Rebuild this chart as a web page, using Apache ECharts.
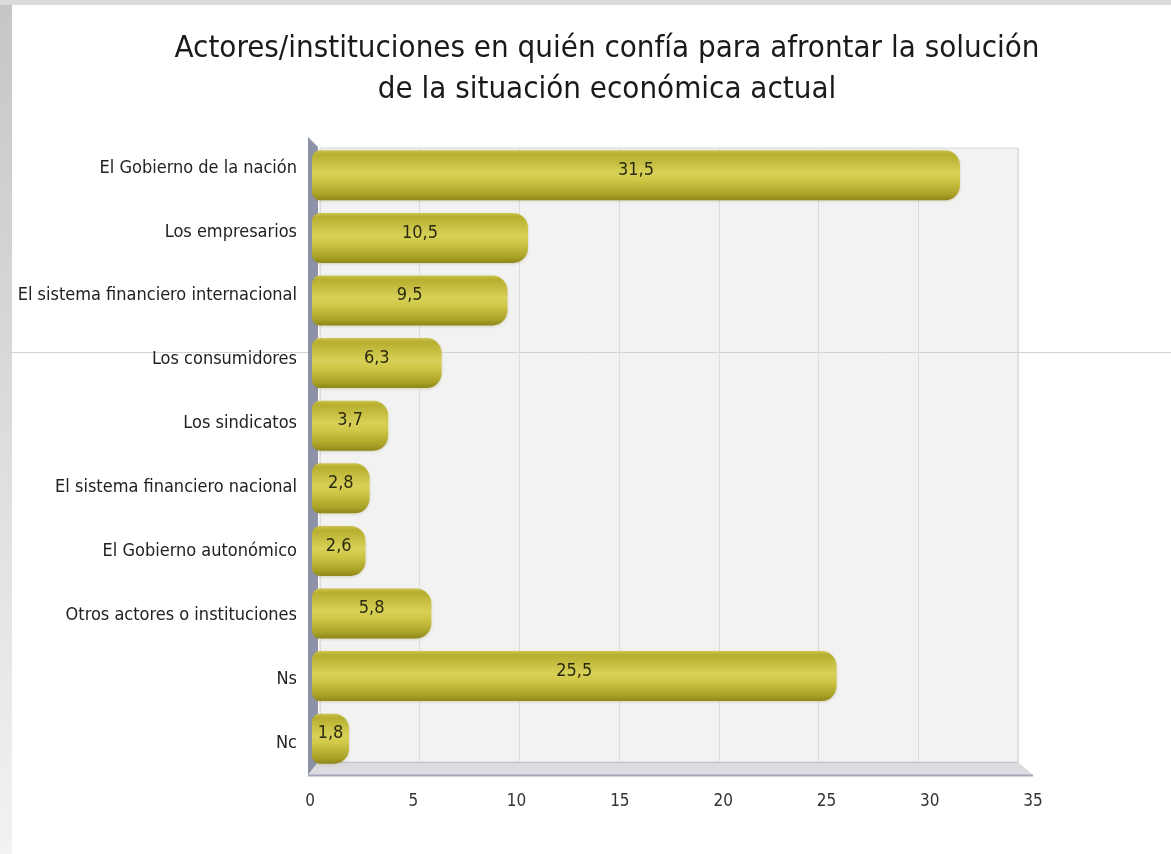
<!DOCTYPE html>
<html>
<head>
<meta charset="utf-8">
<script src="https://cdn.jsdelivr.net/npm/echarts@6/dist/echarts.min.js"></script>
<style>
html,body{margin:0;padding:0;background:#fff;}
#chart{width:1171px;height:854px;}
</style>
</head>
<body>
<div id="chart"></div>
<script>
var titleText = 'Actores/instituciones en quién confía para afrontar la solución\nde la situación económica actual';
var categories = [
  'El Gobierno de la nación',
  'Los empresarios',
  'El sistema financiero internacional',
  'Los consumidores',
  'Los sindicatos',
  'El sistema financiero nacional',
  'El Gobierno autonómico',
  'Otros actores o instituciones',
  'Ns',
  'Nc'
];
var values = [31.5, 10.5, 9.5, 6.3, 3.7, 2.8, 2.6, 5.8, 25.5, 1.8];
var xTicks = [0, 5, 10, 15, 20, 25, 30, 35];

var FONT = 'DejaVu Sans Condensed, DejaVu Sans, sans-serif';
var chart = echarts.init(document.getElementById('chart'), null, {renderer: 'canvas'});

var option = {
  backgroundColor: '#ffffff',
  animation: false,
  title: {
    text: titleText,
    left: 602,
    top: 23,
    textAlign: 'center',
    textStyle: {
      fontFamily: FONT,
      fontSize: 31,
      fontWeight: 'normal',
      color: '#1a1a1a',
      lineHeight: 41,
      align: 'center'
    }
  },
  graphic: [
    {type: 'rect', shape: {x: 0, y: 0, width: 12, height: 854}, z: 0,
      style: {fill: new echarts.graphic.LinearGradient(0, 0, 0, 1, [{offset: 0, color: '#c6c6c6'}, {offset: 1, color: '#f2f2f2'}])}},
    {type: 'rect', shape: {x: 0, y: 0, width: 1171, height: 5}, z: 0, style: {fill: '#dadada'}},
    {type: 'line', shape: {x1: 12, y1: 352.5, x2: 1171, y2: 352.5}, z: 0, style: {stroke: '#d2d2d2', lineWidth: 1}},
    {type: 'polygon', z: 1, shape: {points: [[308, 137], [318, 147], [318, 763], [308, 775]]},
      style: {fill: '#8e92a8'}},
    {type: 'polygon', z: 1, shape: {points: [[318, 762], [1018, 762], [1033, 775], [308, 775]]},
      style: {fill: '#dcdce0'}},
    {type: 'line', z: 1, shape: {x1: 318, y1: 762.5, x2: 1018, y2: 762.5}, style: {stroke: '#c4c4cc', lineWidth: 1}},
    {type: 'line', z: 1, shape: {x1: 308, y1: 775.5, x2: 1033, y2: 775.5}, style: {stroke: '#a4a6b8', lineWidth: 2}}
  ],
  grid: [
    {left: 320, right: 153, top: 148, bottom: 92, show: true, backgroundColor: '#f2f2f2',
      borderColor: '#d6d6d6', borderWidth: 1, z: 0},
    {left: 312, right: 139, top: 144, bottom: 84, show: false},
    {left: 310, right: 138, top: 136, bottom: 79, show: false}
  ],
  xAxis: [
    {type: 'value', gridIndex: 0, min: 0, max: 35, interval: 5,
      axisLabel: {show: false}, axisLine: {show: false}, axisTick: {show: false},
      splitLine: {show: true, lineStyle: {color: '#dcdcdc', width: 1}}},
    {type: 'value', gridIndex: 1, min: 0, max: 35, interval: 5,
      axisLabel: {show: false}, axisLine: {show: false}, axisTick: {show: false}, splitLine: {show: false}},
    {type: 'value', gridIndex: 2, min: 0, max: 35, interval: 5,
      axisLine: {show: false}, axisTick: {show: false}, splitLine: {show: false},
      axisLabel: {fontFamily: FONT, fontSize: 17, color: '#333', margin: 18,
        formatter: function (v) { return xTicks.indexOf(v) >= 0 ? String(v) : ''; }}}
  ],
  yAxis: [
    {type: 'category', gridIndex: 0, data: categories, inverse: true, show: false},
    {type: 'category', gridIndex: 1, data: categories, inverse: true, show: false},
    {type: 'category', gridIndex: 2, data: categories, inverse: true,
      axisLine: {show: false}, axisTick: {show: false}, splitLine: {show: false},
      axisLabel: {fontFamily: FONT, fontSize: 18, color: '#222', margin: 13}}
  ],
  series: [{
    type: 'bar',
    xAxisIndex: 1,
    yAxisIndex: 1,
    data: values,
    barWidth: 50,
    z: 3,
    itemStyle: {
      borderRadius: [8, 15, 15, 8],
      color: new echarts.graphic.LinearGradient(0, 0, 0, 1, [
        {offset: 0, color: '#ccc550'},
        {offset: 0.08, color: '#b6ae2e'},
        {offset: 0.45, color: '#d8d158'},
        {offset: 0.6, color: '#cfc746'},
        {offset: 0.88, color: '#aaa228'},
        {offset: 1, color: '#8e8618'}
      ]),
      shadowColor: 'rgba(120,110,40,0.25)',
      shadowBlur: 3,
      shadowOffsetY: 1
    },
    label: {
      show: true,
      position: 'inside',
      offset: [0, -5],
      fontFamily: FONT,
      fontSize: 18,
      color: '#2a2a10',
      formatter: function (p) { return String(p.value).replace('.', ','); }
    }
  }]
};
chart.setOption(option);
</script>
</body>
</html>
